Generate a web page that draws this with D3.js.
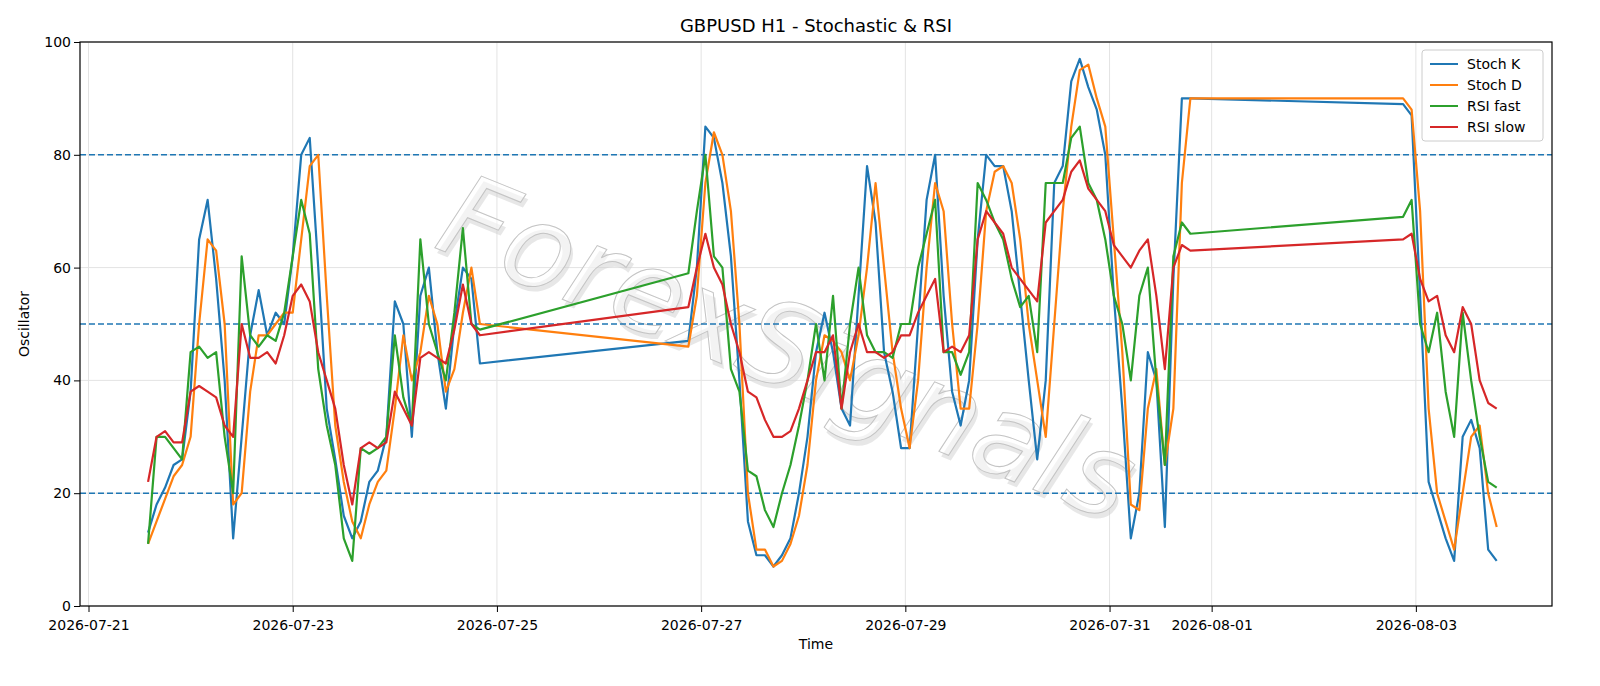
<!DOCTYPE html>
<html><head><meta charset="utf-8">
<script src="https://cdn.jsdelivr.net/npm/d3@7"></script>
<style>html,body{margin:0;background:#fff;overflow:hidden}svg{display:block}</style>
</head><body>
<script>
// segments: start time, values every 2 hours
const segStarts = ["2026-07-21T14:00", "2026-07-26T21:00", "2026-08-02T21:00"];
const stochK = [
  [13,18,21,25,26,38,65,72,58,40,12,30,48,56,48,52,50,62,80,83,60,35,26,16,12,15,22,24,30,54,50,30,55,60,45,35,50,60,58,43],
  [47,60,85,83,75,62,40,15,9,9,7,9,12,20,30,45,52,45,35,32,55,78,68,45,38,28,28,50,72,80,55,38,32,40,65,80,78,78,70,55,40,26,40,75,78,93,97,92,88,80,55,35,12,20,45,40,14,58,90,90],
  [89,87,55,22,17,12,8,30,33,28,10,8]
];
const stochD = [
  [11,15,19,23,25,30,50,65,63,50,18,20,38,48,48,50,52,52,65,78,80,55,32,22,15,12,18,22,24,35,48,40,45,55,50,38,42,52,60,50],
  [46,55,75,84,80,70,50,20,10,10,7,8,11,16,25,40,48,47,45,40,48,60,75,60,45,35,28,40,60,75,70,50,35,35,50,70,77,78,75,65,50,40,30,50,70,85,95,96,90,85,65,45,18,17,35,42,25,35,75,90],
  [90,88,70,35,20,15,10,20,30,32,20,14]
];
const rsiFast = [
  [11,30,30,28,26,45,46,44,45,30,20,62,48,46,48,47,52,62,72,66,42,32,25,12,8,28,27,28,30,48,37,32,65,50,45,40,52,67,50,49],
  [59,70,80,62,60,42,38,24,23,17,14,20,25,32,40,50,40,55,35,50,60,48,45,45,44,50,50,60,66,72,45,45,41,45,75,72,68,65,58,53,55,45,75,75,75,83,85,75,72,65,55,50,40,55,60,40,25,62,68,66],
  [69,72,50,45,52,38,30,52,40,30,22,21]
];
const rsiSlow = [
  [22,30,31,29,29,38,39,38,37,32,30,50,44,44,45,43,48,55,57,54,45,40,35,25,18,28,29,28,29,38,35,32,44,45,44,43,49,57,50,48],
  [53,60,66,60,57,50,45,38,37,33,30,30,31,35,40,45,45,48,35,45,50,45,45,44,45,48,48,52,55,58,45,46,45,48,65,70,68,66,60,58,56,54,68,70,72,77,79,74,72,70,64,62,60,63,65,55,42,60,64,63],
  [65,66,58,54,55,48,45,53,50,40,36,35]
];
const seriesNames = ["Stoch K", "Stoch D", "RSI fast", "RSI slow"];
const seriesColors = ["#1f77b4", "#ff7f0e", "#2ca02c", "#d62728"];
const yTicks = [0, 20, 40, 60, 80, 100];
const levels = [20, 50, 80];
const xTickDates = ["2026-07-21","2026-07-23","2026-07-25","2026-07-27","2026-07-29","2026-07-31","2026-08-01","2026-08-03"];

const W = 1600, H = 686;
const m = {left: 80, right: 48, top: 42, bottom: 80};
const parse = d3.timeParse("%Y-%m-%dT%H:%M");
const parseDay = d3.timeParse("%Y-%m-%d");

function build(arrs) {
  const out = [];
  arrs.forEach((vals, s) => {
    const t0 = parse(segStarts[s]);
    vals.forEach((v, i) => out.push({t: d3.timeHour.offset(t0, i * 2), v}));
  });
  return out;
}
const allSeries = [stochK, stochD, rsiFast, rsiSlow].map(build);

const svg = d3.select("body").append("svg").attr("width", W).attr("height", H)
  .style("font-family", "'DejaVu Sans', sans-serif");

// 07-21 sits at x=87 and 08-03 at 1411
const x = d3.scaleTime()
  .domain([d3.timeHour.offset(parseDay("2026-07-21"), -1.65), d3.timeHour.offset(parseDay("2026-08-04"), 8.9)])
  .range([m.left, W - m.right]);
const y = d3.scaleLinear().domain([0, 100]).range([H - m.bottom, m.top]);

// grid
const xt = xTickDates.map(parseDay);
svg.append("g").selectAll("line").data(xt).join("line")
  .attr("x1", d => x(d)).attr("x2", d => x(d)).attr("y1", y(0)).attr("y2", y(100))
  .attr("stroke", "#e3e3e3").attr("stroke-width", 1);
svg.append("g").selectAll("line").data(yTicks).join("line")
  .attr("x1", m.left).attr("x2", W - m.right).attr("y1", d => y(d)).attr("y2", d => y(d))
  .attr("stroke", "#e3e3e3").attr("stroke-width", 1);

// watermark
const wm = svg.append("g").attr("transform", `translate(785,355) rotate(22)`);
[["#cfcfcf", 4, 4, 0], ["#fff", 0, 0, 1]].forEach(([c, dx, dy, sw]) => {
  wm.append("text").attr("x", dx).attr("y", dy)
    .attr("text-anchor", "middle").attr("dominant-baseline", "middle")
    .attr("font-size", 115).attr("font-style", "italic").attr("font-family", "'DejaVu Sans'")
    .attr("fill", c).attr("fill-opacity", 0.5).attr("stroke", "#c4c4c4").attr("stroke-width", sw)
    .text("ForexSignals");
});

// levels
svg.append("g").selectAll("line").data(levels).join("line")
  .attr("x1", m.left).attr("x2", W - m.right).attr("y1", d => y(d)).attr("y2", d => y(d))
  .attr("stroke", "#1f77b4").attr("stroke-width", 1.5).attr("stroke-dasharray", "6,3");

// lines
const line = d3.line().x(d => x(d.t)).y(d => y(d.v));
allSeries.forEach((data, i) => {
  svg.append("path").datum(data).attr("d", line).attr("fill", "none")
    .attr("stroke", seriesColors[i]).attr("stroke-width", 2.2).attr("stroke-linejoin", "round");
});

// axes
const xAxis = svg.append("g").attr("transform", `translate(0,${y(0)})`)
  .call(d3.axisBottom(x).tickValues(xt).tickFormat(d3.timeFormat("%Y-%m-%d")).tickSizeOuter(0));
const yAxis = svg.append("g").attr("transform", `translate(${m.left},0)`)
  .call(d3.axisLeft(y).tickValues(yTicks).tickSizeOuter(0));
[xAxis, yAxis].forEach(a => {
  a.selectAll("text").attr("font-size", 14).attr("fill", "#000").attr("font-family", "'DejaVu Sans'");
  a.select(".domain").remove();
  a.selectAll("line").attr("stroke", "#000");
});
xAxis.selectAll("text").attr("dy", "1.1em");
svg.append("rect").attr("x", m.left).attr("y", m.top).attr("width", W - m.left - m.right)
  .attr("height", H - m.top - m.bottom).attr("fill", "none").attr("stroke", "#000").attr("stroke-width", 1.2);

svg.append("text").attr("x", (m.left + W - m.right) / 2).attr("y", 32).attr("text-anchor", "middle")
  .attr("font-size", 18).text("GBPUSD H1 - Stochastic & RSI");
svg.append("text").attr("x", (m.left + W - m.right) / 2).attr("y", 649).attr("text-anchor", "middle")
  .attr("font-size", 14).text("Time");
svg.append("text").attr("transform", `translate(29,${(m.top + H - m.bottom) / 2}) rotate(-90)`)
  .attr("text-anchor", "middle").attr("font-size", 14).text("Oscillator");

// legend
const lg = svg.append("g").attr("transform", "translate(1422,50)");
lg.append("rect").attr("width", 121).attr("height", 91).attr("rx", 3).attr("fill", "#fff")
  .attr("fill-opacity", 0.8).attr("stroke", "#ccc");
seriesNames.forEach((n, i) => {
  const yy = 14 + i * 21;
  lg.append("line").attr("x1", 8).attr("x2", 36).attr("y1", yy).attr("y2", yy)
    .attr("stroke", seriesColors[i]).attr("stroke-width", 2);
  lg.append("text").attr("x", 45).attr("y", yy + 5).attr("font-size", 14).text(n);
});
</script>
</body></html>
